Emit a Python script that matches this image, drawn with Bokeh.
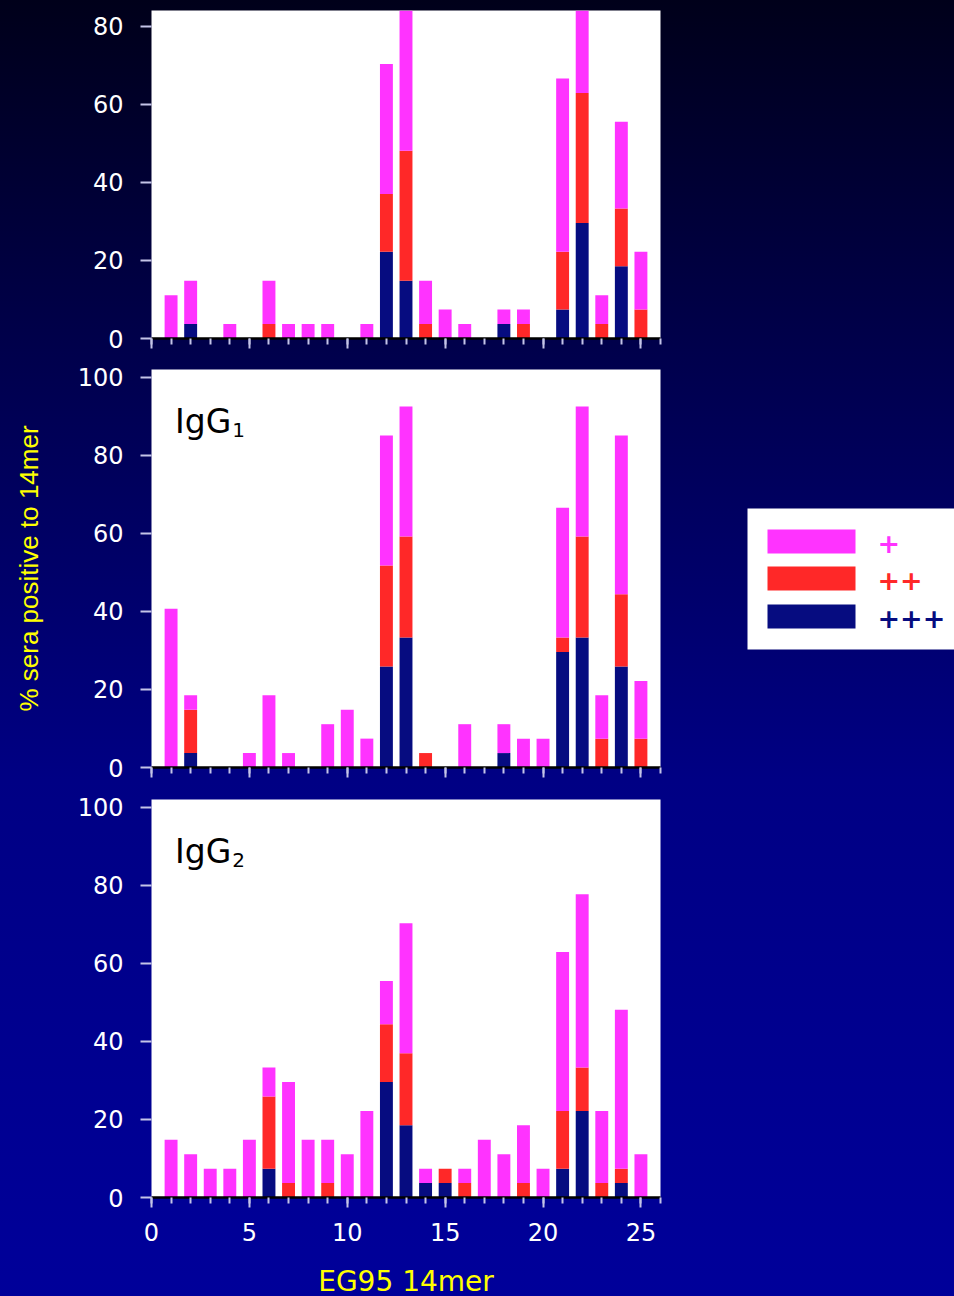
from bokeh.plotting import figure
from bokeh.layouts import column, row
from bokeh.models import Range1d, FixedTicker, Label, ColumnDataSource
from bokeh.embed import file_html
from bokeh.resources import INLINE
from bokeh.core.properties import value

# ---------------- data ----------------
peptides = list(range(1, 26))
levels = ["+++", "++", "+"]
level_colors = ["#060C80", "#FF2828", "#FF33FF"]

# panel 1 (unlabelled, total)
p1_strong = [0, 3.7, 0, 0, 0, 0, 0, 0, 0, 0, 0, 22.2, 14.8, 0, 0, 0, 0, 3.7, 0, 0, 7.4, 29.6, 0, 18.5, 0]
p1_medium = [0, 0, 0, 0, 0, 3.7, 0, 0, 0, 0, 0, 14.8, 33.3, 3.7, 0, 0, 0, 0, 3.7, 0, 14.8, 33.3, 3.7, 14.8, 7.4]
p1_weak = [11.1, 11.1, 0, 3.7, 0, 11.1, 3.7, 3.7, 3.7, 0, 3.7, 33.3, 40.7, 11.1, 7.4, 3.7, 0, 3.7, 3.7, 0, 44.4, 25.9, 7.4, 22.2, 14.8]

# panel 2 (IgG1)
p2_strong = [0, 3.7, 0, 0, 0, 0, 0, 0, 0, 0, 0, 25.9, 33.3, 0, 0, 0, 0, 3.7, 0, 0, 29.6, 33.3, 0, 25.9, 0]
p2_medium = [0, 11.1, 0, 0, 0, 0, 0, 0, 0, 0, 0, 25.9, 25.9, 3.7, 0, 0, 0, 0, 0, 0, 3.7, 25.9, 7.4, 18.5, 7.4]
p2_weak = [40.7, 3.7, 0, 0, 3.7, 18.5, 3.7, 0, 11.1, 14.8, 7.4, 33.3, 33.3, 0, 0, 11.1, 0, 7.4, 7.4, 7.4, 33.3, 33.3, 11.1, 40.7, 14.8]

# panel 3 (IgG2)
p3_strong = [0, 0, 0, 0, 0, 7.4, 0, 0, 0, 0, 0, 29.6, 18.5, 3.7, 3.7, 0, 0, 0, 0, 0, 7.4, 22.2, 0, 3.7, 0]
p3_medium = [0, 0, 0, 0, 0, 18.5, 3.7, 0, 3.7, 0, 0, 14.8, 18.5, 0, 3.7, 3.7, 0, 0, 3.7, 0, 14.8, 11.1, 3.7, 3.7, 0]
p3_weak = [14.8, 11.1, 7.4, 7.4, 14.8, 7.4, 25.9, 14.8, 11.1, 11.1, 22.2, 11.1, 33.3, 3.7, 0, 3.7, 14.8, 11.1, 14.8, 7.4, 40.7, 44.4, 18.5, 40.7, 11.1]

x_major_ticks = [0, 5, 10, 15, 20, 25]
x_minor_ticks = list(range(0, 27))
y_ticks_p1 = [0, 20, 40, 60, 80]
y_ticks_p23 = [0, 20, 40, 60, 80, 100]

x_title = "EG95 14mer"
y_title = "% sera positive to 14mer"

TICK_FONT = "DejaVu Sans"
TICK_COLOR = "#c4c4e8"


def make_panel(strong, medium, weak, ymax, yticks, height, frame_h, top, bottom, last=False):
    p = figure(width=668, height=height, frame_width=509, frame_height=frame_h,
               x_range=Range1d(0, 26), y_range=Range1d(0, ymax),
               toolbar_location=None, output_backend="svg",
               min_border_left=151, min_border_right=8,
               min_border_top=top, min_border_bottom=bottom)
    p.background_fill_color = "white"
    p.border_fill_color = None
    p.outline_line_color = None
    p.grid.visible = False

    src = ColumnDataSource(dict(x=peptides, **{levels[0]: strong, levels[1]: medium, levels[2]: weak}))
    p.vbar_stack(levels, x="x", width=0.66, source=src,
                 fill_color=level_colors, line_color=None)

    xa = p.xaxis[0]
    xa.ticker = FixedTicker(ticks=x_major_ticks, minor_ticks=x_minor_ticks)
    xa.axis_line_color = "black"
    xa.axis_line_width = 2.5
    xa.major_tick_in = 0
    xa.major_tick_out = 10
    xa.minor_tick_in = 0
    xa.minor_tick_out = 6
    xa.major_tick_line_color = TICK_COLOR
    xa.minor_tick_line_color = TICK_COLOR
    xa.major_tick_line_width = 2
    xa.minor_tick_line_width = 2
    if last:
        xa.major_label_text_color = "white"
        xa.major_label_text_font = TICK_FONT
        xa.major_label_text_font_size = "24px"
        xa.major_label_standoff = 15
        xa.axis_label = x_title
        xa.axis_label_text_color = "#FFFF00"
        xa.axis_label_text_font = TICK_FONT
        xa.axis_label_text_font_size = "28px"
        xa.axis_label_text_font_style = "normal"
        xa.axis_label_standoff = 21
    else:
        # tick labels are not shown on the upper panels
        xa.major_label_text_color = None
        xa.major_label_text_font_size = "1px"
        xa.major_label_standoff = 0

    ya = p.yaxis[0]
    ya.ticker = FixedTicker(ticks=yticks, minor_ticks=[])
    ya.axis_line_color = None
    ya.major_tick_in = 0
    ya.major_tick_out = 11
    ya.major_tick_line_color = TICK_COLOR
    ya.major_tick_line_width = 2
    ya.minor_tick_line_color = None
    ya.major_label_text_color = "white"
    ya.major_label_text_font = TICK_FONT
    ya.major_label_text_font_size = "24px"
    ya.major_label_standoff = 17
    return p


p1 = make_panel(p1_strong, p1_medium, p1_weak, 84, y_ticks_p1, 353, 328, 10, 15)
p2 = make_panel(p2_strong, p2_medium, p2_weak, 102, y_ticks_p23, 430, 398, 16, 16)
p3 = make_panel(p3_strong, p3_medium, p3_weak, 102, y_ticks_p23, 513, 398, 16, 99, last=True)

ya2 = p2.yaxis[0]
ya2.axis_label = y_title
ya2.axis_label_text_color = "#FFFF00"
ya2.axis_label_text_font = "Liberation Sans"
ya2.axis_label_text_font_size = "26px"
ya2.axis_label_text_font_style = "normal"
ya2.axis_label_standoff = 31

for pp, sub in ((p2, "1"), (p3, "2")):
    pp.add_layout(Label(x=1.2, y=88.8, text="IgG", text_font="DejaVu Sans",
                        text_font_size="33px", text_color="black", text_baseline="alphabetic"))
    pp.add_layout(Label(x=4.12, y=86.4, text=sub, text_font="DejaVu Sans",
                        text_font_size="20px", text_color="black", text_baseline="alphabetic"))

# ---------------- legend ----------------
leg = figure(width=286, height=1296, x_range=Range1d(0, 286), y_range=Range1d(1296, 0),
             toolbar_location=None, output_backend="svg",
             x_axis_location=None, y_axis_location=None, min_border=0)
leg.grid.visible = False
leg.outline_line_color = None
leg.background_fill_color = None
leg.border_fill_color = None

leg_labels = levels[::-1]
leg_colors = level_colors[::-1]
leg.quad(left=79, right=300, top=508, bottom=649, fill_color="white", line_color=None)
leg.quad(left=[99] * 3, right=[187] * 3, top=[529, 566, 604], bottom=[553, 590, 628],
         fill_color=leg_colors, line_color=None)
leg.text(x=[209] * 3, y=[542, 579, 617], text=leg_labels, text_color=leg_colors,
         text_font=value("DejaVu Sans"), text_font_size="27px", text_font_style="bold",
         text_baseline="middle", text_align="left")

layout = row(column(p1, p2, p3), leg,
             styles={"background": "linear-gradient(to bottom, #00001a 0%, #00004c 27%, #000084 60%, #00009a 100%)"})

open("out.html", "w").write(file_html(layout, INLINE))
